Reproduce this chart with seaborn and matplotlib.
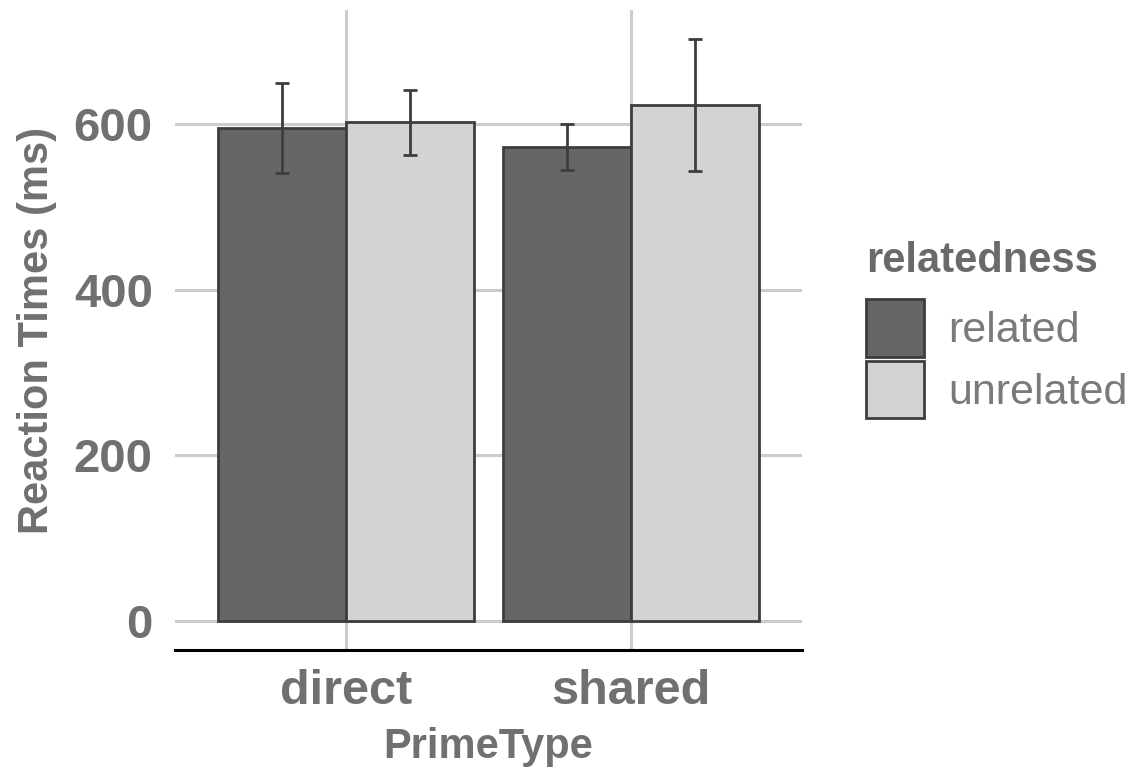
import matplotlib
matplotlib.use("Agg")
import matplotlib.pyplot as plt
import seaborn as sns
import pandas as pd

# Mean reaction times (ms) with error half-widths per condition
prime_types = ["direct", "shared"]
relatedness = ["related", "unrelated"]
mean_rt_related = [595, 572]
mean_rt_unrelated = [602, 623]
err_related = [54.5, 27.5]
err_unrelated = [39.5, 79.5]

rows = []
for i, p in enumerate(prime_types):
    rows.append({"PrimeType": p, "relatedness": "related",
                 "rt": mean_rt_related[i], "err": err_related[i]})
    rows.append({"PrimeType": p, "relatedness": "unrelated",
                 "rt": mean_rt_unrelated[i], "err": err_unrelated[i]})
df = pd.DataFrame(rows)

sns.set_theme(style="whitegrid")
plt.rcParams["font.family"] = ["Liberation Sans", "DejaVu Sans"]

text_grey = "#707070"
grid_grey = "#cccccc"
edge_col = "#3d3d3d"

fig = plt.figure(figsize=(11.3, 7.68), dpi=100)
ax = fig.add_axes([175 / 1130, 118 / 768, 627 / 1130, 640 / 768])

palette = {"related": "#666666", "unrelated": "#d3d3d3"}
sns.barplot(data=df, x="PrimeType", y="rt", hue="relatedness",
            order=prime_types, hue_order=relatedness, palette=palette,
            errorbar=None, width=0.9, edgecolor=edge_col, linewidth=2.0,
            saturation=1, ax=ax, zorder=3)

# Error bars placed at each bar's centre
for container, rel in zip(ax.containers, relatedness):
    sub = df[df["relatedness"] == rel].set_index("PrimeType").loc[prime_types]
    xs = [b.get_x() + b.get_width() / 2 for b in container]
    ax.errorbar(xs, sub["rt"].values, yerr=sub["err"].values, fmt="none",
                ecolor=edge_col, elinewidth=2.0, capsize=5, capthick=2.0,
                zorder=4)

top = max(max(m + e for m, e in zip(mean_rt_related, err_related)),
          max(m + e for m, e in zip(mean_rt_unrelated, err_unrelated)))
pad = 0.05 * top
ax.set_ylim(-pad, top + pad)
ax.set_xlim(-0.6, 1.6)
ax.set_yticks([0, 200, 400, 600])

ax.grid(True, axis="both", color=grid_grey, linewidth=2.2, zorder=0)
ax.set_axisbelow(True)
for side in ["left", "right", "top"]:
    ax.spines[side].set_visible(False)
ax.spines["bottom"].set_visible(True)
ax.spines["bottom"].set_color("black")
ax.spines["bottom"].set_linewidth(2.2)
ax.set_facecolor("white")

ax.tick_params(axis="y", length=0, pad=16, labelsize=34, labelcolor=text_grey)
ax.tick_params(axis="x", length=0, pad=14, labelsize=35, labelcolor=text_grey)
for lab in ax.get_xticklabels() + ax.get_yticklabels():
    lab.set_fontweight("bold")

ax.set_xlabel("PrimeType", fontsize=30, fontweight="bold", color=text_grey,
              labelpad=9)
ax.set_ylabel("Reaction Times (ms)", fontsize=30, fontweight="bold",
              color=text_grey, labelpad=12)

handles, labels = ax.get_legend_handles_labels()
ax.get_legend().remove()
leg = fig.legend(handles, labels,
                 loc="upper left", bbox_to_anchor=(866 / 1130, 1 - 299 / 768),
                 frameon=False, fontsize=31,
                 handlelength=1.35, handleheight=1.68, labelspacing=0.1,
                 handletextpad=0.55, borderaxespad=0, borderpad=0)
for t in leg.get_texts():
    t.set_color("#7a7a7a")
fig.text(866 / 1130, 1 - 261 / 768, "relatedness", fontsize=30,
         fontweight="bold", color="#6a6a6a", ha="left", va="center")

fig.savefig("out.png", dpi=100, facecolor="white")
